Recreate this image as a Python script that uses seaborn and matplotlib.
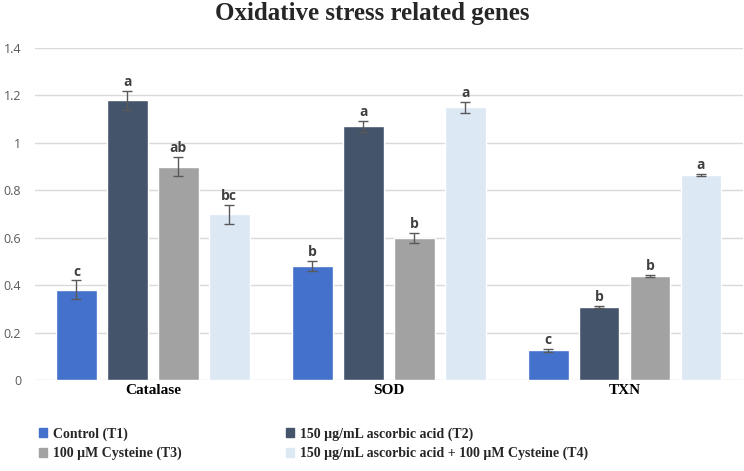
import pandas as pd
import matplotlib.pyplot as plt
import seaborn as sns

genes = ['Catalase', 'SOD', 'TXN']
treatments = ['Control (T1)', '150 µg/mL ascorbic acid (T2)',
              '100 µM Cysteine (T3)', '150 µg/mL ascorbic acid + 100 µM Cysteine (T4)']

t1 = [0.38, 0.48, 0.125]
t2 = [1.18, 1.07, 0.31]
t3 = [0.90, 0.60, 0.44]
t4 = [0.70, 1.15, 0.865]

t1_err = [0.04, 0.022, 0.005]
t2_err = [0.04, 0.022, 0.004]
t3_err = [0.04, 0.022, 0.005]
t4_err = [0.04, 0.022, 0.005]

t1_sig = ['c', 'b', 'c']
t2_sig = ['a', 'a', 'b']
t3_sig = ['ab', 'b', 'b']
t4_sig = ['bc', 'a', 'a']

colors = ['#4371CB', '#44546A', '#A2A2A2', '#DDE8F5']

values = [t1, t2, t3, t4]
errors = [t1_err, t2_err, t3_err, t4_err]
letters = [t1_sig, t2_sig, t3_sig, t4_sig]

rows = []
for t, vals in zip(treatments, values):
    for g, v in zip(genes, vals):
        rows.append({'gene': g, 'treatment': t, 'value': v})
df = pd.DataFrame(rows)

sns.set_style('white')
fig = plt.figure(figsize=(7.44, 4.71), dpi=100)
ax = fig.add_axes([0.047, 0.193, 0.951, 0.705])

sns.barplot(data=df, x='gene', y='value', hue='treatment', hue_order=treatments,
            order=genes, palette=colors, width=0.864, gap=0.2, errorbar=None,
            saturation=1, legend=False, ax=ax, zorder=3)

for cont, errs, sig in zip(ax.containers, errors, letters):
    xs = [b.get_x() + b.get_width() / 2 for b in cont]
    hs = [b.get_height() for b in cont]
    ax.errorbar(xs, hs, yerr=errs, fmt='none', ecolor='#595959',
                elinewidth=1, capsize=3.5, capthick=1, zorder=4)
    for x, h, e, s in zip(xs, hs, errs, sig):
        ax.text(x, h + e + 0.008, s, ha='center', va='bottom', fontsize=10,
                fontweight='bold', color='#404040', family='Open Sans')

ax.set_xlim(-0.5, 2.5)
ax.set_ylim(0, 1.4)
ax.set_yticks([0, 0.2, 0.4, 0.6, 0.8, 1.0, 1.2, 1.4])
ax.set_yticklabels(['0', '0.2', '0.4', '0.6', '0.8', '1', '1.2', '1.4'],
                   family='Open Sans', fontsize=9, color='#595959')
ax.yaxis.grid(True, color='#D9D9D9', linewidth=1, zorder=0)
ax.set_axisbelow(True)
ax.tick_params(axis='y', length=0, pad=10)
ax.tick_params(axis='x', length=0, pad=3)
for lab in ax.get_xticklabels():
    lab.set_family('Liberation Serif')
    lab.set_fontweight('bold')
    lab.set_fontsize(11)
    lab.set_color('black')
ax.set_xlabel('')
ax.set_ylabel('')
sns.despine(ax=ax, left=True, bottom=True)

fig.suptitle('Oxidative stress related genes', family='Liberation Serif',
             fontweight='bold', fontsize=18, y=0.995, x=0.5)

handles = [plt.Rectangle((0, 0), 1, 1, color=c) for c in colors]
order = [0, 2, 1, 3]
fig.legend([handles[i] for i in order], [treatments[i] for i in order],
           ncol=2, loc='upper left', bbox_to_anchor=(0.045, 0.105), frameon=False,
           prop={'family': 'Liberation Serif', 'weight': 'bold', 'size': 10},
           handlelength=0.6, handleheight=0.6, handletextpad=0.4,
           columnspacing=7.5, labelspacing=0.45, borderaxespad=0)

fig.savefig('out.png', dpi=100)
